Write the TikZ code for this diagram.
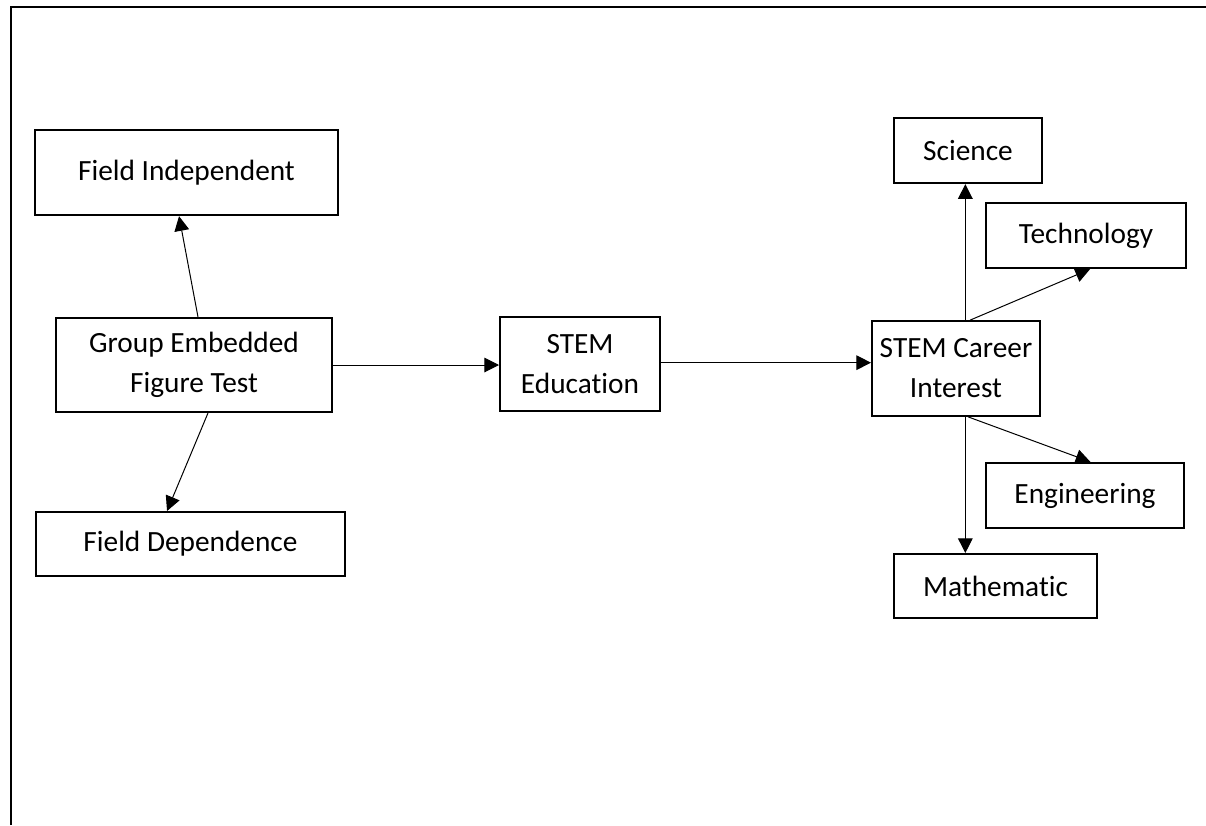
\documentclass[tikz,border=0pt]{standalone}
\usepackage{fontspec}
\setmainfont{Carlito}[Ligatures=NoCommon]
\usepackage{tikz}
\usetikzlibrary{arrows.meta}
\usetikzlibrary{calc}
\tikzset{
    box/.style={
        draw,
        line width=1.5pt,
        align=center,
        inner sep=0pt,
        font=\fontsize{22}{30}\selectfont
    },
    link/.style={
        -{Triangle[length=11pt,width=11pt]},
        line width=0.75pt
    }
}

\begin{document}
\begin{tikzpicture}[x=0.75pt,y=-0.75pt]
            \useasboundingbox (0,0) rectangle (1206,825);
            \draw[line width=1.8pt] (11,825) -- (11,7) -- (1206,7);
            % left part
            \node[box,minimum width=227pt,minimum height=64pt] (fi) at (186.5,172.5) {Field Independent};
            \node[box,minimum width=207pt,minimum height=70.5pt] (geft) at (194,365) {Group Embedded\\Figure Test};
            \node[box,minimum width=232pt,minimum height=48pt] (fd) at (190.5,544) {Field Dependence};
            \node[box,minimum width=120pt,minimum height=70.5pt] (edu) at (580,364) {STEM\\Education};
            % right part
            \node[box,minimum width=126pt,minimum height=71pt] (career) at (956,368.5) {STEM Career\\Interest};
            \node[box,minimum width=111pt,minimum height=49pt] (sci) at (968,150.5) {Science};
            \node[box,minimum width=150pt,minimum height=49pt] (tech) at (1086,235.5) {Technology};
            \node[box,minimum width=148.5pt,minimum height=49pt] (eng) at (1085,495.5) {Engineering};
            \node[box,minimum width=152pt,minimum height=48pt] (math) at (995.5,586) {Mathematic};
            \draw[link] ([xshift=3pt]geft.north) -- ([xshift=-5.6pt]fi.south);
            \draw[link] ([xshift=10.5pt]geft.south) -- ([xshift=-17.6pt]fd.north);
            \draw[link] (geft.east) -- (geft.east -| edu.west);
            \draw[link] ([yshift=1pt]edu.east) -- ([yshift=1pt]edu.east -| career.west);
            \draw[link] ([xshift=7pt]career.north) -- ([xshift=7pt]career.north |- sci.south);
            \draw[link] ([xshift=10.5pt]career.north) -- ([xshift=3pt]tech.south);
            \draw[link] ([xshift=7pt]career.south) -- ([xshift=7pt]career.south |- math.north);
            \draw[link] ([xshift=9pt]career.south) -- ([xshift=4pt]eng.north);
          \end{tikzpicture}
\end{document}
